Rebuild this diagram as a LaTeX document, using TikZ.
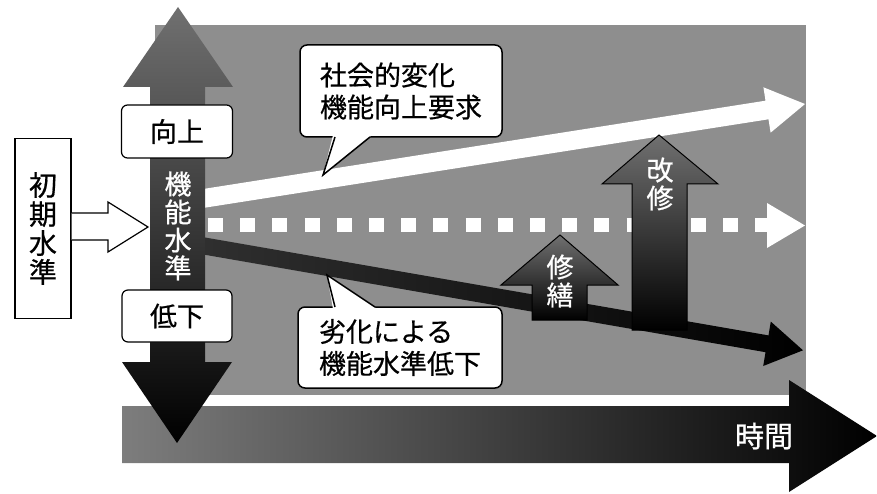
\documentclass[tikz,border=0pt]{standalone}
\usepackage{fontspec}
\newfontfamily\cjk{Noto Sans CJK JP}[FakeBold=0.6]
\newfontfamily\cjkw{Noto Sans CJK JP}[FakeBold=0.8]
\definecolor{bggray}{RGB}{142,142,142}
\definecolor{midgray}{RGB}{112,112,112}
\definecolor{lightgray2}{RGB}{125,125,125}
\definecolor{darkgray2}{RGB}{48,48,48}
\tikzset{
  bubble/.style={draw=black, line width=1.5pt, fill=white, rounded corners=7pt},
  labelbox/.style={draw=black, line width=1.2pt, fill=white, rounded corners=6pt},
  blacktext/.style={font=\cjk\fontsize{27}{32}\selectfont, text=black},
  whitetext/.style={font=\cjkw\fontsize{27}{28}\selectfont, text=white, align=center, inner sep=0pt},
  repairarrow/.style={draw=black, line width=1pt, top color=midgray, bottom color=black}
}
\begin{document}
\begin{tikzpicture}[x=1pt,y=-1pt]
\useasboundingbox (0,0) rectangle (877,494);
% background
\fill[bggray] (155,25) rectangle (806,395);
% time arrow
\shade[left color=lightgray2, right color=black]
  (122,406) -- (789,406) -- (789,380) -- (877,436) -- (789,492) -- (789,463) -- (122,463) -- cycle;
\node[whitetext, font=\cjkw\fontsize{29}{30}\selectfont, anchor=center] (time) at (764,436) {時間};
% rising white arrow
\fill[white] (198,189.8) -- (765.5,100.7) -- (763.4,87.3) -- (805,104) -- (770.6,132.7) -- (768.5,119.3) -- (201,208.3) -- cycle;
% dotted white arrow
\draw[white, line width=14pt, dash pattern=on 15pt off 17.2pt] (208,225.5) -- (772,225.5);
\fill[white] (767,203) -- (805,225.5) -- (767,248) -- cycle;
% falling dark arrow
\shade[left color=darkgray2, right color=black]
  (196.5,236) -- (768.5,335.4) -- (770.8,321.6) -- (803,350.3) -- (763.2,366) -- (765.5,352.2) -- (193.5,252.8) -- cycle;
% repair arrows
\path[repairarrow] (532,320) -- (532,285) -- (501,285) -- (560,235) -- (618,285) -- (587,285) -- (587,320) -- cycle;
\node[whitetext] (shuzen) at (560,281) {修\\繕};
\path[repairarrow] (632,330) -- (632,184) -- (602,184) -- (659,135) -- (718,184) -- (687,184) -- (687,330) -- cycle;
\node[whitetext] (kaishu) at (660,184) {改\\修};
% main vertical arrow
\shade[top color=midgray, middle color=darkgray2, bottom color=black]
  (150,87) -- (123,87) -- (178,7) -- (233,87) -- (205,87) -- (205,362) -- (232,362) -- (177,443) -- (122,362) -- (150,362) -- cycle;
\node[whitetext] (kinou) at (178,226) {機\\能\\水\\準};
% up/down labels
\node[labelbox, blacktext, minimum width=111pt, minimum height=53pt, inner sep=0pt] (up) at (177,131.5) {向上};
\node[labelbox, blacktext, minimum width=110pt, minimum height=52pt, inner sep=0pt] (down) at (177,316) {低下};
% initial level box
\node[draw=black, line width=1.2pt, fill=white, minimum width=56pt, minimum height=180pt, inner sep=0pt,
  font=\cjk\fontsize{28}{29}\selectfont, align=center] (init) at (43,228.5) {初\\期\\水\\準};
% hollow arrow from init box to vertical arrow
\filldraw[fill=white, draw=black, line width=1.2pt, line join=miter]
  (init.east |- 0,213) -- (108,213) -- (108,202) -- (148,227) -- (108,252) -- (108,240) -- (init.east |- 0,240);
% bubble 1
\node[bubble, blacktext, align=left, minimum width=202pt, minimum height=92pt, inner sep=0pt] (social) at (401,91) {社会的変化\\機能向上要求};
\fill[white] (333,135) -- (323,175) -- (372,135) -- cycle;
\draw[line width=1.5pt, line join=miter] (335,137) -- (323,175) -- (370,137);
% bubble 2
\node[bubble, blacktext, align=left, minimum width=204pt, minimum height=81pt, inner sep=0pt] (deterior) at (400,347.5) {劣化による\\機能水準低下};
\fill[white] (333,309) -- (327,275) -- (377,309) -- cycle;
\draw[line width=1.5pt, line join=miter] (335,307) -- (327,275) -- (375,307);
\end{tikzpicture}
\end{document}
